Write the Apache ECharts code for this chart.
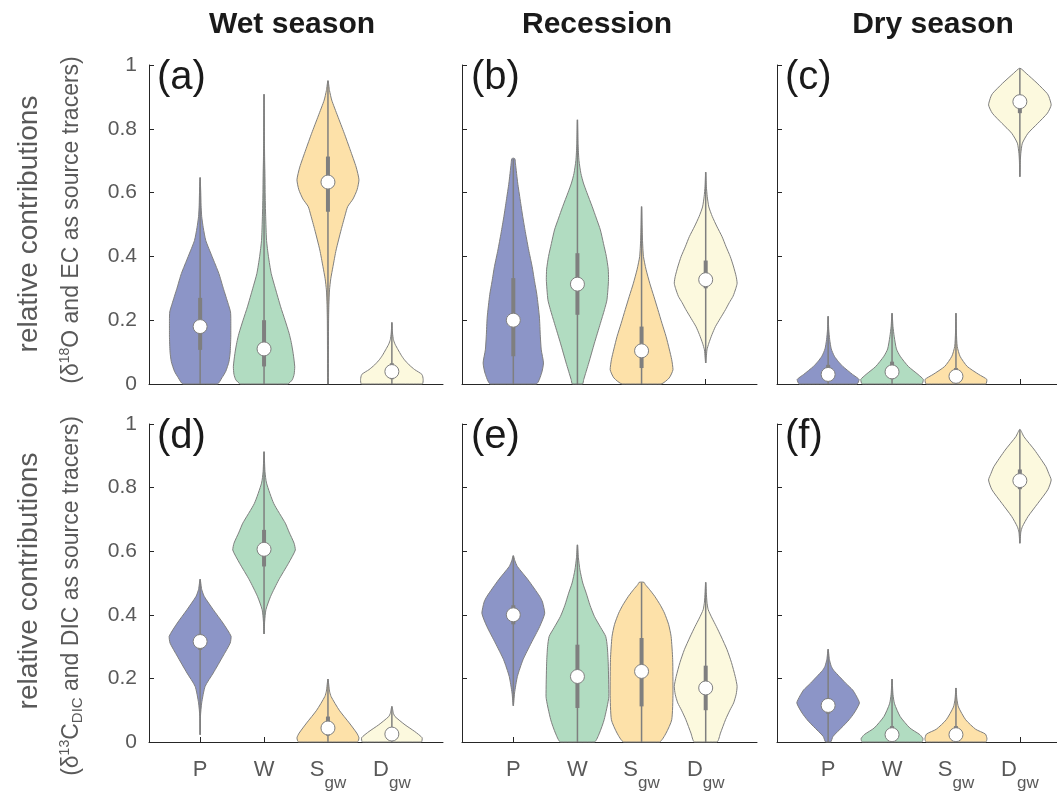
<!DOCTYPE html>
<html><head><meta charset="utf-8">
<script src="https://cdn.jsdelivr.net/npm/echarts@6/dist/echarts.min.js"></script>
<style>html,body{margin:0;padding:0;background:#fff}#c{width:1057px;height:794px}</style>
</head><body><div id="c"></div>
<script>
// ---------------- DATA ----------------
const categories = ['P', 'W', 'S_gw', 'D_gw'];
const seasons = ['Wet season', 'Recession', 'Dry season'];
const panelLetters = ['(a)', '(b)', '(c)', '(d)', '(e)', '(f)'];
const yTicks = [0, 0.2, 0.4, 0.6, 0.8, 1];
const catPositions = [1, 2, 3, 4];

// Violin outlines: [contribution, relative half-width (0..1)] from bottom to top, for P, W, S_gw, D_gw
const profilesA = [
  [[0,0.55],[0.02,0.7],[0.04,0.82],[0.07,0.92],[0.1,0.96],[0.15,0.98],[0.2,0.98],[0.226,0.97],[0.25,0.9],[0.3,0.74],[0.346,0.6],[0.4,0.38],[0.45,0.18],[0.49,0.1],[0.525,0.05],[0.56,0.03],[0.6,0.02],[0.647,0]],
  [[0,0.75],[0.013,0.9],[0.03,0.96],[0.054,0.98],[0.096,0.93],[0.13,0.87],[0.159,0.8],[0.2,0.67],[0.242,0.53],[0.3,0.36],[0.346,0.23],[0.4,0.14],[0.45,0.08],[0.5,0.06],[0.55,0.045],[0.6,0.035],[0.65,0.03],[0.7,0.02],[0.76,0.012],[0.85,0.006],[0.908,0]],
  [[0,0.012],[0.1,0.015],[0.2,0.02],[0.25,0.03],[0.295,0.05],[0.33,0.09],[0.368,0.16],[0.42,0.26],[0.483,0.42],[0.53,0.55],[0.556,0.63],[0.58,0.8],[0.609,0.93],[0.64,0.99],[0.68,0.9],[0.734,0.71],[0.786,0.52],[0.84,0.31],[0.89,0.12],[0.92,0.05],[0.951,0]],
  [[0,0.97],[0.014,1.0],[0.03,0.96],[0.045,0.73],[0.06,0.55],[0.076,0.4],[0.09,0.3],[0.107,0.2],[0.125,0.1],[0.139,0.05],[0.16,0.02],[0.193,0]]
];
const profilesB = [
  [[0,0.73],[0.034,0.9],[0.066,0.96],[0.107,0.89],[0.15,0.86],[0.21,0.83],[0.28,0.75],[0.32,0.68],[0.368,0.6],[0.42,0.49],[0.473,0.39],[0.525,0.3],[0.577,0.22],[0.63,0.14],[0.69,0.07],[0.706,0.05],[0.708,0]],
  [[0,0.16],[0.014,0.2],[0.066,0.36],[0.128,0.54],[0.19,0.73],[0.233,0.86],[0.264,0.94],[0.327,0.99],[0.36,0.98],[0.4,0.92],[0.44,0.83],[0.483,0.73],[0.52,0.6],[0.556,0.47],[0.6,0.3],[0.63,0.19],[0.66,0.11],[0.7,0.05],[0.75,0.02],[0.828,0]],
  [[0,0.62],[0.019,0.88],[0.045,1.0],[0.076,0.96],[0.11,0.88],[0.149,0.78],[0.19,0.65],[0.233,0.52],[0.275,0.39],[0.316,0.26],[0.36,0.14],[0.4,0.06],[0.45,0.03],[0.5,0.015],[0.556,0]],
  [[0.066,0],[0.085,0.02],[0.107,0.04],[0.128,0.1],[0.155,0.2],[0.18,0.31],[0.205,0.46],[0.233,0.63],[0.255,0.75],[0.275,0.87],[0.3,0.96],[0.316,1.0],[0.337,0.97],[0.37,0.88],[0.4,0.78],[0.43,0.65],[0.462,0.52],[0.495,0.35],[0.525,0.21],[0.555,0.1],[0.587,0.05],[0.62,0.02],[0.664,0]]
];
const profilesC = [
  [[0,0.92],[0.014,0.99],[0.03,0.78],[0.055,0.47],[0.07,0.33],[0.087,0.2],[0.11,0.1],[0.139,0.05],[0.17,0.02],[0.212,0]],
  [[0,0.95],[0.014,1.0],[0.03,0.83],[0.055,0.52],[0.087,0.26],[0.11,0.14],[0.148,0.07],[0.18,0.03],[0.222,0]],
  [[0,0.95],[0.014,0.99],[0.03,0.73],[0.055,0.36],[0.087,0.13],[0.118,0.04],[0.16,0.015],[0.222,0]],
  [[0.65,0],[0.7,0.015],[0.723,0.03],[0.755,0.08],[0.786,0.26],[0.817,0.57],[0.849,0.88],[0.875,1.0],[0.9,0.93],[0.911,0.87],[0.943,0.55],[0.974,0.2],[0.99,0]]
];
const profilesD = [
  [[0.023,0],[0.08,0.01],[0.123,0.05],[0.175,0.16],[0.217,0.42],[0.27,0.73],[0.311,0.96],[0.332,0.99],[0.374,0.73],[0.416,0.42],[0.458,0.13],[0.48,0.05],[0.512,0]],
  [[0.34,0],[0.38,0.02],[0.416,0.06],[0.458,0.21],[0.51,0.47],[0.562,0.78],[0.604,1.0],[0.625,0.96],[0.66,0.8],[0.688,0.68],[0.75,0.31],[0.814,0.08],[0.85,0.03],[0.913,0]],
  [[0,0.94],[0.013,0.99],[0.028,0.92],[0.06,0.68],[0.1,0.36],[0.143,0.1],[0.16,0.05],[0.198,0]],
  [[0,0.94],[0.013,0.97],[0.033,0.73],[0.054,0.42],[0.08,0.1],[0.09,0.05],[0.112,0]]
];
const profilesE = [
  [[0.114,0],[0.154,0.04],[0.206,0.13],[0.259,0.31],[0.311,0.57],[0.363,0.84],[0.405,1.0],[0.44,0.93],[0.458,0.84],[0.51,0.47],[0.552,0.13],[0.57,0.05],[0.586,0]],
  [[0,0.54],[0.028,0.7],[0.07,0.85],[0.143,1.0],[0.248,0.98],[0.3,0.95],[0.332,0.9],[0.36,0.74],[0.395,0.54],[0.43,0.4],[0.468,0.28],[0.5,0.17],[0.541,0.08],[0.58,0.03],[0.62,0]],
  [[0,0.57],[0.028,0.78],[0.07,0.96],[0.154,1.0],[0.259,0.99],[0.332,0.94],[0.37,0.86],[0.405,0.73],[0.43,0.6],[0.458,0.42],[0.48,0.25],[0.495,0.12],[0.502,0.08],[0.503,0]],
  [[0,0.36],[0.028,0.47],[0.07,0.63],[0.1,0.77],[0.123,0.89],[0.15,0.97],[0.175,1.0],[0.206,0.94],[0.25,0.82],[0.29,0.68],[0.33,0.5],[0.363,0.34],[0.39,0.2],[0.416,0.08],[0.44,0.04],[0.47,0.02],[0.502,0]]
];
const profilesF = [
  [[0,0.08],[0.018,0.16],[0.049,0.47],[0.07,0.67],[0.091,0.83],[0.123,1.0],[0.145,0.9],[0.164,0.78],[0.185,0.56],[0.206,0.36],[0.225,0.18],[0.238,0.1],[0.26,0.04],[0.292,0]],
  [[0,0.95],[0.01,0.99],[0.023,0.89],[0.044,0.57],[0.08,0.26],[0.12,0.08],[0.15,0.03],[0.198,0]],
  [[0,0.95],[0.01,0.99],[0.025,0.94],[0.04,0.63],[0.07,0.31],[0.11,0.08],[0.135,0.03],[0.17,0]],
  [[0.625,0],[0.66,0.03],[0.677,0.08],[0.709,0.26],[0.75,0.57],[0.793,0.89],[0.824,1.0],[0.845,0.92],[0.866,0.83],[0.918,0.47],[0.96,0.13],[0.983,0]]
];

// Box statistics: [whisker low, q1, median, q3, whisker high] for P, W, S_gw, D_gw
const statsA = [[0,0.107,0.18,0.27,0.647],[0,0.055,0.11,0.2,0.908],[0,0.54,0.633,0.713,0.951],[0,0.015,0.039,0.065,0.193]];
const statsB = [[0,0.087,0.2,0.332,0.706],[0,0.217,0.313,0.41,0.828],[0,0.05,0.104,0.18,0.556],[0.066,0.3,0.327,0.387,0.664]];
const statsC = [[0,0.01,0.03,0.06,0.212],[0,0.015,0.038,0.07,0.222],[0,0.008,0.024,0.05,0.222],[0.65,0.849,0.885,0.906,0.99]];
const statsD = [[0.023,0.29,0.316,0.34,0.512],[0.34,0.552,0.606,0.667,0.913],[0,0.02,0.044,0.08,0.198],[0,0.01,0.025,0.045,0.112]];
const statsE = [[0.114,0.37,0.4,0.43,0.586],[0,0.107,0.206,0.306,0.62],[0,0.112,0.222,0.327,0.502],[0,0.1,0.17,0.24,0.502]];
const statsF = [[0,0.089,0.115,0.138,0.292],[0,0.008,0.023,0.05,0.198],[0,0.008,0.023,0.05,0.17],[0.625,0.795,0.822,0.857,0.983]];

// ---------------- STYLE / LAYOUT ----------------
const FONT = '"Liberation Sans", Arial, Helvetica, sans-serif';
const violinColors = ['#8c95c7', '#b1dcc1', '#fde1a9', '#fcf9de'];
const GREY = '#7f7f7f';
const AXIS = '#262626';
const LABEL = '#595959';
const HW = 0.49;
const gridLefts = [149, 462, 777];
const gridWidths = [294, 295, 294];
const gridTops = [65, 424];
const gridHeights = [319, 318];
const panelProfiles = [profilesA, profilesB, profilesC, profilesD, profilesE, profilesF];
const panelStats = [statsA, statsB, statsC, statsD, statsE, statsF];

const labelText = {
  P: '{m|P}', W: '{m|W}', S_gw: '{m|S}{s|gw}', D_gw: '{m|D}{s|gw}'
};

function makeRender(profiles, stats) {
  return function (params, api) {
    const i = params.dataIndex;
    const cx = api.value(0);
    const prof = profiles[i];
    const right = prof.map(p => api.coord([cx + p[1] * HW, p[0]]));
    const left = [];
    for (let k = prof.length - 1; k >= 0; k--) {
      if (prof[k][1] > 0) left.push(api.coord([cx - prof[k][1] * HW, prof[k][0]]));
    }
    const pts = right.concat(left);
    let minX = Infinity, minY = Infinity, maxX = -Infinity, maxY = -Infinity;
    pts.forEach(p => { minX = Math.min(minX, p[0]); maxX = Math.max(maxX, p[0]); minY = Math.min(minY, p[1]); maxY = Math.max(maxY, p[1]); });
    const st = stats[i];
    const a = api.coord([cx, st[0]]), b = api.coord([cx, st[4]]);
    const q1 = api.coord([cx, st[1]]), q3 = api.coord([cx, st[3]]);
    const m = api.coord([cx, st[2]]);
    return {
      type: 'group',
      children: [
        { type: 'polygon', shape: { points: pts, smooth: 0.2, smoothConstraint: [[minX, minY], [maxX, maxY]] },
          style: { fill: violinColors[i], stroke: GREY, lineWidth: 1 } },
        { type: 'line', shape: { x1: a[0], y1: a[1], x2: b[0], y2: b[1] },
          style: { stroke: GREY, lineWidth: 1.5 } },
        { type: 'line', shape: { x1: q1[0], y1: q1[1], x2: q3[0], y2: q3[1] },
          style: { stroke: GREY, lineWidth: 4 } },
        { type: 'circle', shape: { cx: m[0], cy: m[1], r: 7 },
          style: { fill: '#ffffff', stroke: GREY, lineWidth: 1 } }
      ]
    };
  };
}

const grids = [], xAxes = [], yAxes = [], series = [];
for (let k = 0; k < 6; k++) {
  const row = Math.floor(k / 3), col = k % 3;
  grids.push({ left: gridLefts[col], top: gridTops[row], width: gridWidths[col], height: gridHeights[row], outerBoundsMode: 'none', containLabel: false });
  xAxes.push({
    type: 'value', gridIndex: k, min: 0.2, max: 4.8,
    axisLine: { show: true, onZero: false, lineStyle: { color: AXIS, width: 1 } },
    axisTick: { show: true, inside: true, length: 5, customValues: catPositions, lineStyle: { color: AXIS } },
    axisLabel: {
      show: row === 1, customValues: catPositions, margin: 17,
      formatter: v => labelText[categories[Math.round(v) - 1]] || '',
      rich: {
        m: { fontFamily: FONT, fontSize: 22, color: LABEL, lineHeight: 33, verticalAlign: 'top' },
        s: { fontFamily: FONT, fontSize: 17, color: LABEL, lineHeight: 33, verticalAlign: 'bottom' }
      }
    },
    splitLine: { show: false }
  });
  yAxes.push({
    type: 'value', gridIndex: k, min: 0, max: 1, interval: 0.2,
    axisLine: { show: true, lineStyle: { color: AXIS, width: 1 } },
    axisTick: { show: true, inside: true, length: 5, lineStyle: { color: AXIS } },
    axisLabel: { show: col === 0, fontFamily: FONT, fontSize: 21, color: LABEL, margin: 12,
      formatter: v => String(+v.toFixed(1)) },
    splitLine: { show: false }
  });
  series.push({
    type: 'custom', xAxisIndex: k, yAxisIndex: k, clip: false,
    data: catPositions.map((c, i) => [c, panelStats[k][i][2]]),
    encode: { x: 0, y: 1 },
    renderItem: makeRender(panelProfiles[k], panelStats[k]),
    silent: true
  });
}

const titleX = [292, 597, 933];
const letterX = [157, 471, 785];
const letterY = [78, 437];
const graphics = [];
seasons.forEach((s, i) => graphics.push({
  type: 'text', x: titleX[i], y: 24.5,
  style: { text: s, fontFamily: FONT, fontSize: 30, fontWeight: 'bold', fill: '#1a1a1a', align: 'center', verticalAlign: 'middle' }
}));
panelLetters.forEach((t, k) => graphics.push({
  type: 'text', x: letterX[k % 3], y: letterY[Math.floor(k / 3)],
  style: { text: t, fontFamily: FONT, fontSize: 40, fill: '#1a1a1a', align: 'left', verticalAlign: 'middle' }
}));
const yTitleRich = {
  sup: { fontFamily: FONT, fontSize: 14, fill: LABEL, verticalAlign: 'top' },
  sub: { fontFamily: FONT, fontSize: 15, fill: LABEL, verticalAlign: 'bottom' }
};
graphics.push({ type: 'text', x: 29, y: 224, rotation: Math.PI / 2,
  style: { text: 'relative contributions', fontFamily: FONT, fontSize: 28, fill: LABEL, align: 'center', verticalAlign: 'middle' } });
graphics.push({ type: 'text', x: 29, y: 581, rotation: Math.PI / 2,
  style: { text: 'relative contributions', fontFamily: FONT, fontSize: 28, fill: LABEL, align: 'center', verticalAlign: 'middle' } });
graphics.push({ type: 'text', x: 72, y: 220, rotation: Math.PI / 2,
  style: { text: '(δ{sup|18}O and EC as source tracers)', fontFamily: FONT, fontSize: 23, lineHeight: 27, fill: LABEL, align: 'center', verticalAlign: 'middle', rich: yTitleRich } });
graphics.push({ type: 'text', x: 72, y: 596, rotation: Math.PI / 2,
  style: { text: '(δ{sup|13}C{sub|DIC} and DIC as source tracers)', fontFamily: FONT, fontSize: 23, lineHeight: 27, fill: LABEL, align: 'center', verticalAlign: 'middle', rich: yTitleRich } });

const chart = echarts.init(document.getElementById('c'), null, { renderer: 'canvas' });
chart.setOption({
  animation: false,
  backgroundColor: '#ffffff',
  textStyle: { fontFamily: FONT },
  grid: grids, xAxis: xAxes, yAxis: yAxes, series: series,
  graphic: graphics
});
</script></body></html>
